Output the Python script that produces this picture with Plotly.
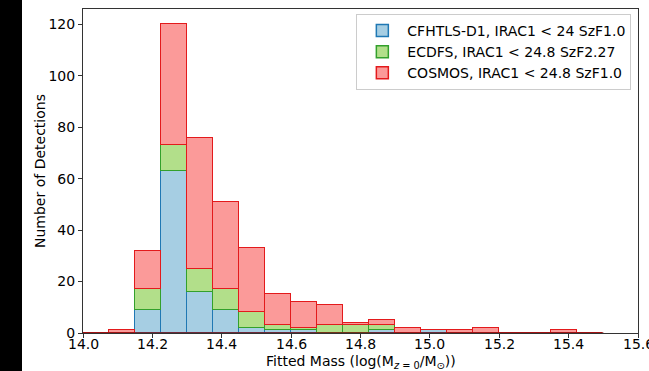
import plotly.graph_objects as go

# Histogram bin edges (log mass)
bin_start = 14.0
bin_width = 0.075
n_bins = 20

# Counts per bin (not stacked)
cfhtls = [0, 0, 9, 63, 16, 9, 2, 1, 1, 0, 0, 1, 0, 1, 0, 0, 0, 0, 0, 0]
ecdfs = [0, 0, 8, 10, 9, 8, 6, 2, 1, 3, 3, 2, 0, 0, 0, 0, 0, 0, 0, 0]
cosmos = [0, 1, 15, 47, 51, 34, 25, 12, 10, 8, 1, 2, 2, 0, 1, 2, 0, 0, 1, 0]

labels = ["CFHTLS-D1, IRAC1 < 24 SzF1.0",
          "ECDFS, IRAC1 < 24.8 SzF2.27",
          "COSMOS, IRAC1 < 24.8 SzF1.0"]
fills = ["#a6cee3", "#b2df8a", "#fb9a99"]
edges = ["#1f78b4", "#33a02c", "#e31a1c"]

xticks = [14.0, 14.2, 14.4, 14.6, 14.8, 15.0, 15.2, 15.4, 15.6]
yticks = [0, 20, 40, 60, 80, 100, 120]

centers = [bin_start + bin_width * (i + 0.5) for i in range(n_bins)]
bin_edges = [bin_start + bin_width * i for i in range(n_bins + 1)]

fig = go.Figure()
for vals, lab, fc, ec in zip([cfhtls, ecdfs, cosmos], labels, fills, edges):
    fig.add_trace(go.Bar(
        x=centers, y=vals, width=bin_width, name=lab,
        marker=dict(color=fc, line=dict(color=ec, width=1.5)),
    ))

# baseline edge line (matplotlib draws zero-height patch edges)
fig.add_trace(go.Scatter(x=[bin_edges[0], bin_edges[-1]], y=[0, 0], mode="lines",
                         line=dict(color="#8a1010", width=1.5), showlegend=False,
                         hoverinfo="skip"))

W, H = 649, 371
L, R, T, B = 83, 11, 9, 38
pw, ph = W - L - R, H - T - B

annotations = [
    dict(text="Fitted Mass (log(M<sub><i>z</i> = 0</sub>/M<sub>⊙</sub>))",
         xref="paper", yref="paper", x=0.5, y=(333 - 362) / ph,
         xanchor="center", yanchor="middle", showarrow=False,
         font=dict(size=14)),
    dict(text="Number of Detections", textangle=-90,
         xref="paper", yref="paper", x=(40 - L) / pw, y=0.5,
         xanchor="center", yanchor="middle", showarrow=False,
         font=dict(size=14)),
]
# x tick labels (drawn as annotations so the edge label is kept, clipped like the reference)
for v in xticks:
    annotations.append(dict(text=f"{v:.1f}", xref="x", yref="paper", x=v,
                            y=(333 - 344) / ph, xanchor="center", yanchor="middle",
                            showarrow=False, font=dict(size=14)))

fig.update_layout(
    width=W, height=H,
    margin=dict(l=L, r=R, t=T, b=B, autoexpand=False),
    barmode="stack", bargap=0,
    paper_bgcolor="white", plot_bgcolor="white",
    font=dict(family="DejaVu Sans", size=14, color="black"),
    legend=dict(x=0.988, y=0.985, xanchor="right", yanchor="top",
                bordercolor="#cccccc", borderwidth=1, bgcolor="rgba(255,255,255,0.8)",
                traceorder="normal", font=dict(size=14), tracegroupgap=0,
                itemwidth=40),
    shapes=[dict(type="rect", xref="paper", yref="paper",
                 x0=-L / pw, x1=(22 - L) / pw, y0=-B / ph, y1=1 + T / ph,
                 fillcolor="black", line=dict(width=0), layer="above")],
    annotations=annotations,
)
fig.update_xaxes(range=[14.0, 15.6], tickvals=xticks, showticklabels=False,
                 automargin=False,
                 showline=True, mirror=True, linecolor="#333333", linewidth=1,
                 ticks="outside", ticklen=4, tickcolor="#333333", showgrid=False,
                 zeroline=False)
fig.update_yaxes(range=[0, 126], tickvals=yticks,
                 automargin=False, tickfont=dict(size=14),
                 showline=True, mirror=True, linecolor="#333333", linewidth=1,
                 ticks="outside", ticklen=4, tickcolor="#333333", showgrid=False,
                 zeroline=False)

fig.write_html("out.html")
